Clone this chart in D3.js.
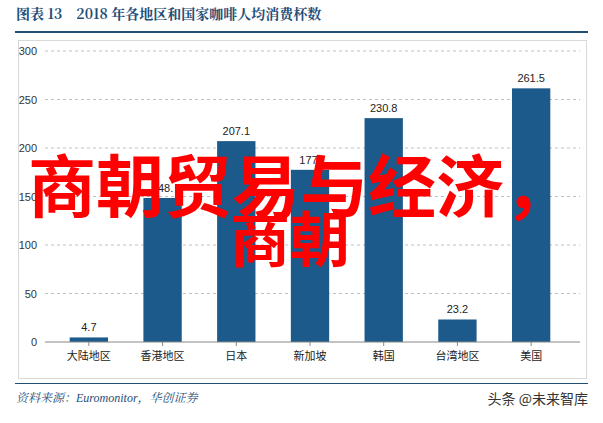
<!DOCTYPE html><html><head><meta charset="utf-8"><script src="https://cdn.jsdelivr.net/npm/d3@7"></script>
<style>body{margin:0;background:#fff}</style></head><body><svg id="c" width="603" height="423"></svg>
<script>
const categories=["大陆地区","香港地区","日本","新加坡","韩国","台湾地区","美国"];
const values=[4.7,148.5,207.1,177.5,230.8,23.2,261.5];
const labels=["4.7","148.","207.1","177.","230.8","23.2","261.5"];
const yTicks=[0,50,100,150,200,250,300];
const svg=d3.select("#c");
const F="'Noto Sans CJK SC',sans-serif";
svg.append("text").attr("x",16).attr("y",19).attr("font-family","'Noto Serif CJK SC','Noto Sans CJK SC',serif").attr("font-weight","bold").attr("font-size",14).attr("fill","#1f4e79").text("图表 13　2018 年各地区和国家咖啡人均消费杯数");
svg.append("rect").attr("x",15).attr("y",31).attr("height",2).attr("fill","#1f4e79").attr("width",573);
svg.append("rect").attr("x",18.5).attr("y",40.5).attr("width",568).attr("height",338).attr("fill","none").attr("stroke","#d9d9d9");
const x=d3.scaleBand().domain(categories).range([52,568]).paddingInner(0.48).paddingOuter(0.24);
const y=d3.scaleLinear().domain([0,300]).range([342,51]);
const g=svg.append("g");
g.selectAll("line.g").data(yTicks.slice(1)).join("line").attr("x1",45).attr("x2",580).attr("y1",d=>y(d)).attr("y2",d=>y(d)).attr("stroke","#bfbfbf").attr("stroke-dasharray","3,3");
const ya=svg.append("g").attr("transform","translate(45,0)").call(d3.axisLeft(y).tickValues(yTicks).tickSize(0).tickPadding(8));
ya.select(".domain").remove();
ya.selectAll("text").attr("font-family","Arial, 'Liberation Sans'").attr("font-size",11).attr("fill","#333");
g.selectAll("rect.b").data(values).join("rect").attr("x",(d,i)=>x(categories[i])).attr("width",x.bandwidth()).attr("y",d=>y(d)).attr("height",d=>342-y(d)).attr("fill","#1b5a8a");
g.selectAll("text.v").data(values).join("text").attr("x",(d,i)=>x(categories[i])+x.bandwidth()/2).attr("y",d=>y(d)-6).attr("text-anchor","middle").attr("font-family","Arial, 'Liberation Sans'").attr("font-size",11).attr("fill","#222").text((d,i)=>labels[i]);
const xa=svg.append("g").attr("transform","translate(0,342)").call(d3.axisBottom(x).tickSize(4).tickPadding(6));
xa.select(".domain").attr("stroke","#888").attr("d","M45,0H580");xa.selectAll("line").attr("stroke","#888");
xa.selectAll("text").attr("font-family",F).attr("font-size",11).attr("fill","#222");
svg.append("rect").attr("x",15).attr("y",383).attr("width",573).attr("height",1).attr("fill","#1f4e79");
svg.append("text").attr("x",16).attr("y",402).attr("font-family","'Liberation Serif','Noto Serif CJK SC',serif").attr("font-style","italic").attr("font-size",12).attr("fill","#1f4e79").text("资料来源：Euromonitor，华创证券");
svg.append("text").attr("x",588).attr("y",404).attr("text-anchor","end").attr("font-family",F).attr("font-size",14).attr("fill","#333").text("头条 @未来智库");
svg.append("text").attr("x",28).attr("y",212).attr("font-family",F).attr("font-weight","bold").attr("font-size",68).attr("fill","#ff0000").text("商朝贸易与经济，");
svg.append("text").attr("x",230).attr("y",262).attr("font-family",F).attr("font-weight","bold").attr("font-size",60).attr("fill","#ff0000").text("商朝");
</script></body></html>
